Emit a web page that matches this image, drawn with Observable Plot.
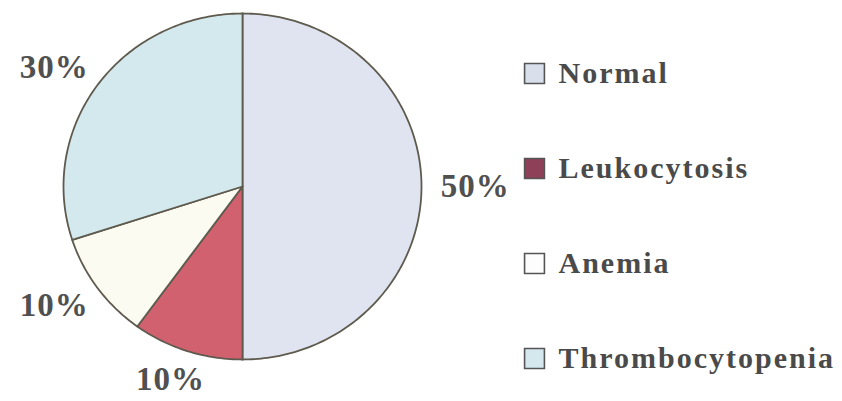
<!DOCTYPE html>
<html>
<head>
<meta charset="utf-8">
<script src="https://cdn.jsdelivr.net/npm/d3@7"></script>
<script src="https://cdn.jsdelivr.net/npm/@observablehq/plot@0.6"></script>
<style>
  html, body { margin: 0; padding: 0; background: #fff; }
  #wrap { display: flex; width: 842px; height: 401px; }
</style>
</head>
<body>
<div id="wrap"></div>
<script>
const categories = ["Normal", "Leukocytosis", "Anemia", "Thrombocytopenia"];
const percents = [50, 10, 10, 30];
const sliceColors = ["#dfe4f0", "#d2616f", "#fbfbf1", "#d3e9ee"];
const legendColors = ["#dadfec", "#8d4057", "#fdfdfd", "#d5e8ee"];
const labelTexts = ["50%", "10%", "10%", "30%"];

// slice geometry from d3.pie (angles clockwise from top)
const arcs = d3.pie().sort(null).value(d => d)(percents);
const slicePts = [];
arcs.forEach((a, i) => {
  const name = categories[i];
  slicePts.push({name, x: 0, y: 0});
  const n = Math.max(2, Math.ceil((a.endAngle - a.startAngle) / (Math.PI / 180)));
  for (let k = 0; k <= n; k++) {
    const t = a.startAngle + (a.endAngle - a.startAngle) * k / n;
    slicePts.push({name, x: Math.sin(t), y: Math.cos(t)});
  }
  slicePts.push({name, x: 0, y: 0});
});
const labels = arcs.map((a, i) => {
  const m = (a.startAngle + a.endAngle) / 2;
  return {text: labelTexts[i], x: Math.sin(m) * 1.3, y: Math.cos(m) * 1.17};
});

const pie = Plot.plot({
  width: 520, height: 401,
  margin: 0,
  style: {letterSpacing: "1px"},
  x: {domain: [-1, 1], range: [63, 421], axis: null},
  y: {domain: [-1, 1], range: [359, 13], axis: null},
  color: {domain: categories, range: sliceColors},
  marks: [
    Plot.line(slicePts, {x: "x", y: "y", z: "name", fill: "name", stroke: "#5f5a4e", strokeWidth: 1.8, strokeLinejoin: "round"}),
    Plot.text(labels, {x: "x", y: "y", text: "text", fontSize: 33, fontWeight: "bold", fontFamily: "Liberation Serif, serif", fill: "#505050"})
  ]
});

const legend = Plot.plot({
  width: 322, height: 401,
  margin: 0,
  style: {letterSpacing: "2px"},
  y: {domain: categories, type: "point", range: [72, 358], padding: 0, axis: null},
  color: {domain: categories, range: legendColors},
  marks: [
    Plot.dot(categories, {y: d => d, fill: d => d, symbol: "square", r: 11.2, stroke: "#555", strokeWidth: 1.6, frameAnchor: "left", dx: 14}),
    Plot.text(categories, {y: d => d, text: d => d, frameAnchor: "left", dx: 38, textAnchor: "start", fontSize: 30, fontWeight: "bold", fontFamily: "Liberation Serif, serif", fill: "#4a4a4a"})
  ]
});

document.getElementById("wrap").append(pie, legend);
</script>
</body>
</html>
